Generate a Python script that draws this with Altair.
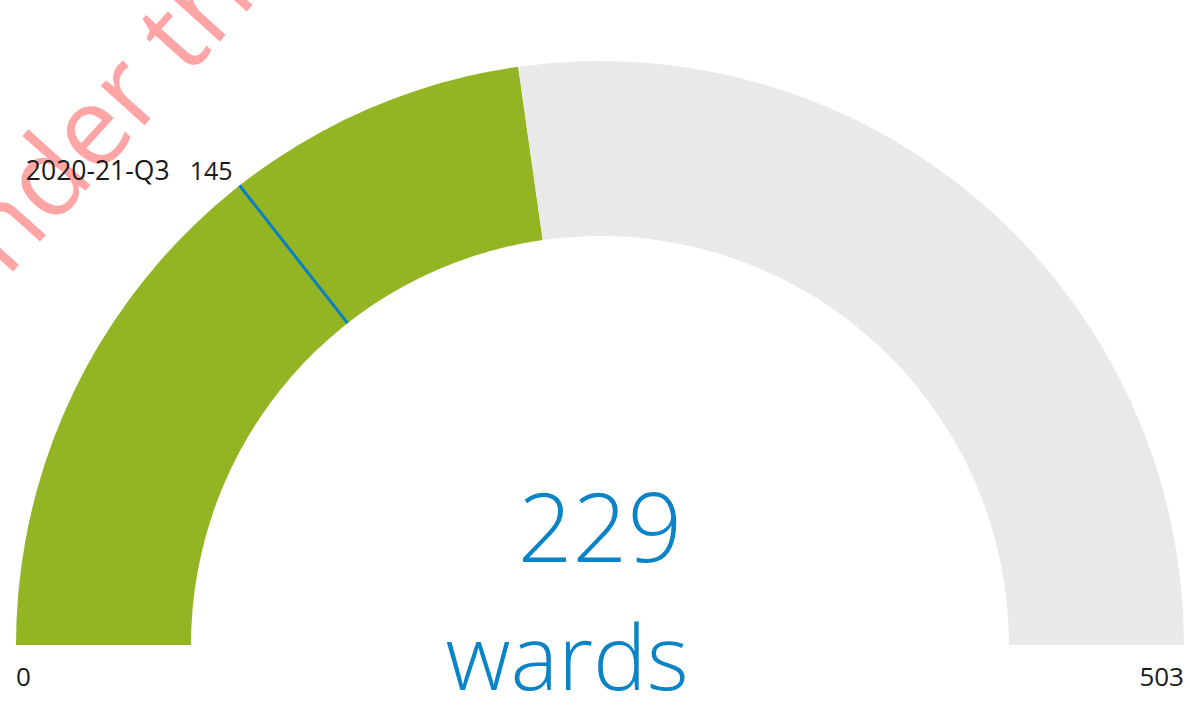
import math
import altair as alt
import pandas as pd

# ---- data ----
min_value = [0]
max_value = [503]
actual_value = [229]
target_value = [145]
target_label = ["2020-21-Q3"]
unit_label = ["wards"]
watermark_text = ["Under the"]

seg_start = [0, 229]
seg_end = [229, 503]
seg_color = ["#93B524", "#E9E9E9"]

# ---- layout constants ----
W, H = 1190, 707
CX, CY = 600, 645
R_OUT, R_IN = 584, 409
FONT = "Open Sans"

lo, hi = min_value[0], max_value[0]
theta_scale = alt.Scale(domain=[lo, hi], range=[-math.pi / 2, math.pi / 2])

segs = pd.DataFrame({"start": seg_start, "end": seg_end, "color": seg_color})
arcs = alt.Chart(segs).mark_arc(radius=R_OUT, radius2=R_IN, stroke=None).encode(
    theta=alt.Theta("start:Q", scale=theta_scale),
    theta2="end:Q",
    color=alt.Color("color:N", scale=None),
    x=alt.value(CX),
    y=alt.value(CY),
)

tgt = pd.DataFrame({"t": target_value, "label": target_label})
tgt_base = alt.Chart(tgt).transform_calculate(
    a=f"PI*(datum.t-{lo})/({hi}-{lo})",
).transform_calculate(
    x1=f"{CX}-{R_OUT}*cos(datum.a)",
    y1=f"{CY}-{R_OUT}*sin(datum.a)",
    x2=f"{CX}-{R_IN}*cos(datum.a)",
    y2=f"{CY}-{R_IN}*sin(datum.a)",
)
rule = tgt_base.mark_rule(color="#0A7FC2", strokeWidth=3).encode(
    x=alt.X("x1:Q", scale=None),
    y=alt.Y("y1:Q", scale=None),
    x2="x2:Q",
    y2="y2:Q",
)
tlabel = tgt_base.transform_calculate(lx="datum.x1-70", ly="datum.y1-6").mark_text(
    align="right", baseline="alphabetic", fontSize=26.5, font=FONT, color="#1a1a1a"
).encode(x=alt.X("lx:Q", scale=None), y=alt.Y("ly:Q", scale=None), text="label:N")
tval = tgt_base.transform_calculate(lx="datum.x1-7", ly="datum.y1-6").mark_text(
    align="right", baseline="alphabetic", fontSize=25, font=FONT, color="#1a1a1a"
).encode(x=alt.X("lx:Q", scale=None), y=alt.Y("ly:Q", scale=None), text="t:Q")

ends = pd.DataFrame({"v": [lo, hi], "x": [CX - R_OUT, CX + R_OUT]})
min_lbl = alt.Chart(ends.iloc[[0]]).mark_text(
    align="left", baseline="alphabetic", fontSize=26, font=FONT, color="#1a1a1a"
).encode(x=alt.X("x:Q", scale=None), y=alt.value(686), text="v:Q")
max_lbl = alt.Chart(ends.iloc[[1]]).mark_text(
    align="right", baseline="alphabetic", fontSize=26, font=FONT, color="#1a1a1a"
).encode(x=alt.X("x:Q", scale=None), y=alt.value(686), text="v:Q")

val_df = pd.DataFrame({"v": actual_value, "u": unit_label})
big_val = alt.Chart(val_df).mark_text(
    align="center", baseline="alphabetic", fontSize=96, font=FONT, fontWeight=300, color="#0A84C6"
).encode(x=alt.value(CX), y=alt.value(562), text="v:Q")
unit = alt.Chart(val_df).mark_text(
    align="center", baseline="alphabetic", fontSize=90, font=FONT, fontWeight=300, color="#0A84C6"
).encode(x=alt.value(567), y=alt.value(690), text="u:N")

wm = alt.Chart(pd.DataFrame({"w": watermark_text})).mark_text(
    align="left", baseline="alphabetic", fontSize=110, font=FONT, angle=312,
    color="#FF4D4D", opacity=0.5,
).encode(x=alt.value(-47), y=alt.value(338), text="w:N")

chart = alt.layer(arcs, rule, wm, tlabel, tval, min_lbl, max_lbl, big_val, unit).properties(
    width=W, height=H, autosize=alt.AutoSizeParams(type="none"), padding=0
).configure_view(stroke=None)

chart.save("out.html", embed_options={"renderer": "svg", "actions": False})
